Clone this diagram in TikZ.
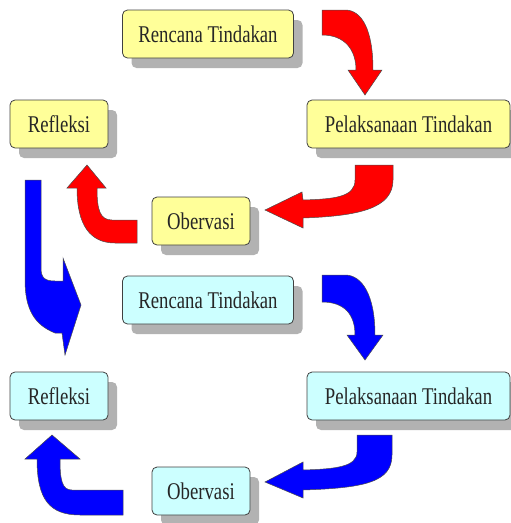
\documentclass[tikz,border=0pt]{standalone}
\usepackage{fontspec}
\newfontfamily\boxfont[FakeStretch=0.78]{Liberation Serif}
\usepackage{tikz}
\usetikzlibrary{shadows,positioning,calc}
\definecolor{cycleyellow}{RGB}{255,255,153}
\definecolor{cyclecyan}{RGB}{204,255,255}
\tikzset{
    box/.style = {rectangle, rounded corners=5pt, draw=black!75, line width=0.8pt,
        minimum height=48pt, inner sep=2pt, text=black!85,
        font=\boxfont\fontsize{24}{28}\selectfont,
        drop shadow={shadow xshift=9pt, shadow yshift=-10pt, fill=black!30, opacity=1}},
    cycleone/.style = {box, fill=cycleyellow},
    cycletwo/.style = {box, fill=cyclecyan},
    redarrow/.style = {fill=red, draw=black!70, line width=0.5pt},
    bluearrow/.style = {fill=blue, draw=black!70, line width=0.5pt}
}

\begin{document}
\begin{tikzpicture}[x=1pt,y=-1pt]
    \useasboundingbox (0,0) rectangle (511,523);
    % First cycle
    \node[cycleone, minimum width=171pt] (rencanaA) at (208,34) {Rencana Tindakan};
    \node[cycleone, minimum width=203pt] (pelaksanaanA) at (408.5,124) {Pelaksanaan Tindakan};
    \node[cycleone, minimum width=98pt] (observasiA) at (201,221) {Obervasi};
    \node[cycleone, minimum width=98pt] (refleksiA) at (59,124) {Refleksi};
    % Second cycle
    \node[cycletwo, minimum width=171pt] (rencanaB) at (208,300) {Rencana Tindakan};
    \node[cycletwo, minimum width=203pt] (pelaksanaanB) at (408.5,396) {Pelaksanaan Tindakan};
    \node[cycletwo, minimum width=98pt] (observasiB) at (201,491) {Obervasi};
    \node[cycletwo, minimum width=98pt] (refleksiB) at (59,396) {Refleksi};
    % Red block arrows
    \filldraw[redarrow] (322,10) -- (345,10) .. controls (362,10) and (373,30) .. (373,70)
        -- (382,70) -- (365,95) -- (348,70) -- (356,70) .. controls (356,50) and (345,35) .. (322,35) -- cycle;
    \filldraw[redarrow] (355,165) -- (393,165) -- (393,180) .. controls (393,208) and (360,216) .. (303,218)
        -- (303,228) -- (265,210) -- (302,192) -- (303,200) .. controls (335,199) and (355,197) .. (355,180) -- cycle;
    \filldraw[redarrow] (137,220) -- (112,220) .. controls (100,220) and (97,210) .. (97,188)
        -- (106,188) -- (87,165) -- (67,188) -- (77,188) .. controls (77,225) and (90,243) .. (115,243) -- (137,243) -- cycle;
    % Link between the cycles
    \filldraw[bluearrow] (25,180) -- (41,180) -- (41,268) .. controls (41,278) and (45,281) .. (55,281)
        -- (63,281) -- (63,258) -- (81,305) -- (65,355) -- (62,333) -- (55,333) .. controls (35,325) and (25,310) .. (25,280) -- cycle;
    % Blue block arrows
    \filldraw[bluearrow] (322,275) -- (345,275) .. controls (362,275) and (375,295) .. (375,335)
        -- (383,335) -- (365,360) -- (347,335) -- (355,335) .. controls (355,315) and (345,302) .. (322,302) -- cycle;
    \filldraw[bluearrow] (357,435) -- (392,435) -- (392,455) .. controls (392,482) and (365,488) .. (303,490)
        -- (303,498) -- (265,482) -- (303,462) -- (303,470) .. controls (335,469) and (357,467) .. (357,452) -- cycle;
    \filldraw[bluearrow] (123,490) -- (72,490) .. controls (62,490) and (60,480) .. (60,459)
        -- (80,459) -- (52,435) -- (25,459) -- (37,459) .. controls (37,500) and (50,515) .. (80,515) -- (123,515) -- cycle;
\end{tikzpicture}
\end{document}
